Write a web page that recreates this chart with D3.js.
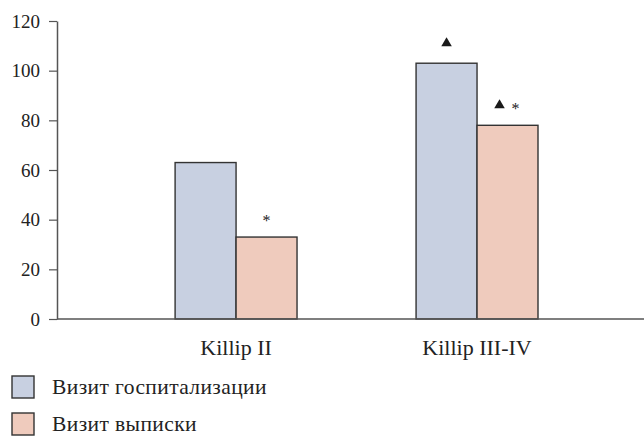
<!DOCTYPE html>
<html>
<head>
<meta charset="utf-8">
<script src="https://cdn.jsdelivr.net/npm/d3@7"></script>
<style>
  body { margin: 0; background: #fff; }
  svg text { font-family: "Liberation Serif", "DejaVu Serif", serif; }
</style>
</head>
<body>
<div id="chart"></div>
<script>
// data
const categories = ["Killip II", "Killip III-IV"];
const seriesNames = ["Визит госпитализации", "Визит выписки"];
const hospValues = [63, 103];
const dischargeValues = [33, 78];
const yTicks = [0, 20, 40, 60, 80, 100, 120];
// significance marks: [category index, series index, marks]
const markCat = [0, 1, 1];
const markSeries = [1, 0, 1];
const markText = ["*", "▲", "▲ *"];

const colors = ["#c8d0e1", "#efcbbd"];
const serif = "'Liberation Serif', 'DejaVu Serif', serif";

const width = 644, height = 436;
const svg = d3.select("#chart").append("svg")
    .attr("width", width)
    .attr("height", height);

const x0 = d3.scaleBand()
    .domain(categories)
    .range([57, 644])
    .paddingInner(0.494)
    .paddingOuter(0.465)
    .align(0.527);

const x1 = d3.scaleBand()
    .domain([0, 1])
    .range([0, x0.bandwidth()]);

const y = d3.scaleLinear()
    .domain([0, 120])
    .range([319, 21]);

const values = [hospValues, dischargeValues];

// bars
categories.forEach((c, ci) => {
    const g = svg.append("g").attr("transform", `translate(${x0(c)},0)`);
    g.selectAll("rect")
        .data([0, 1])
        .enter().append("rect")
        .attr("x", s => x1(s))
        .attr("y", s => y(values[s][ci]))
        .attr("width", x1.bandwidth())
        .attr("height", s => y(0) - y(values[s][ci]))
        .attr("fill", s => colors[s])
        .attr("stroke", "#333")
        .attr("stroke-width", 1.4);
});

// y axis
const yAxis = svg.append("g")
    .attr("transform", "translate(57,0)")
    .call(d3.axisLeft(y).tickValues(yTicks).tickSize(8).tickPadding(9).tickSizeOuter(0));
yAxis.attr("font-family", null).attr("font-size", null);
yAxis.select(".domain").attr("stroke", "#555").attr("stroke-width", 1.5);
yAxis.selectAll(".tick line").attr("stroke", "#555").attr("stroke-width", 1.2);
yAxis.selectAll(".tick text")
    .attr("fill", "#222")
    .style("font-size", "19px")
    .style("font-family", serif);

// x axis line
svg.append("line")
    .attr("x1", 57).attr("x2", width)
    .attr("y1", y(0)).attr("y2", y(0))
    .attr("stroke", "#555")
    .attr("stroke-width", 1.5);

// category labels
svg.selectAll(".cat")
    .data(categories)
    .enter().append("text")
    .attr("class", "cat")
    .attr("x", d => x0(d) + x0.bandwidth() / 2)
    .attr("y", 355)
    .attr("text-anchor", "middle")
    .attr("fill", "#222")
    .style("font-family", serif)
    .style("font-size", "22px")
    .text(d => d);

// significance marks
markText.forEach((t, i) => {
    const ci = markCat[i], si = markSeries[i];
    const cx = x0(categories[ci]) + x1(si) + x1.bandwidth() / 2;
    const top = y(values[si][ci]);
    const hasTri = t.includes("▲");
    const hasStar = t.includes("*");
    const triX = hasStar ? cx - 8 : cx;
    const starX = hasTri ? cx + 8 : cx;
    if (hasTri) {
        svg.append("path")
            .attr("d", d3.symbol().type(d3.symbolTriangle).size(48)())
            .attr("transform", `translate(${triX},${top - 20})`)
            .attr("fill", "#1a1a1a");
    }
    if (hasStar) {
        svg.append("text")
            .attr("x", starX)
            .attr("y", top - 11)
            .attr("text-anchor", "middle")
            .attr("fill", "#222")
            .style("font-family", serif)
            .style("font-size", "16px")
            .text("*");
    }
});

// legend
const legend = svg.selectAll(".legend")
    .data(seriesNames)
    .enter().append("g")
    .attr("class", "legend")
    .attr("transform", (d, i) => `translate(12,${376 + i * 37})`);

legend.append("rect")
    .attr("width", 22)
    .attr("height", 22)
    .attr("fill", (d, i) => colors[i])
    .attr("stroke", "#333")
    .attr("stroke-width", 1.4);

legend.append("text")
    .attr("x", 40)
    .attr("y", 18)
    .attr("fill", "#222")
    .style("font-family", serif)
    .style("font-size", "21.5px")
    .style("letter-spacing", "0.4px")
    .text(d => d);
</script>
</body>
</html>
